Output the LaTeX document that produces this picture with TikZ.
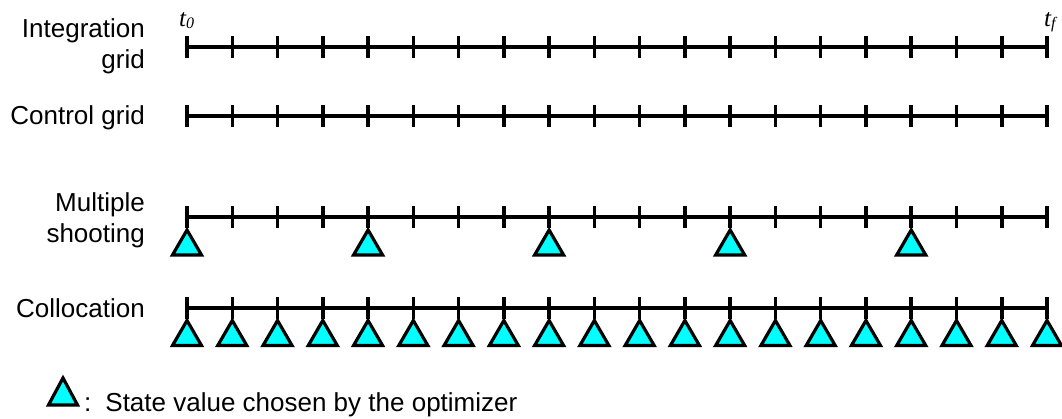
\documentclass[tikz,border=0pt]{standalone}
\usepackage{fontspec}
\setmainfont{Liberation Sans}
\newfontfamily\timesfont{Liberation Serif}
\definecolor{statecyan}{HTML}{00FFFF}

\begin{document}
\begin{tikzpicture}[x=1pt,y=-1pt,
    rowlabel/.style={anchor=base east,align=right,inner sep=0pt,
                     font=\fontsize{26}{31}\selectfont},
    gridline/.style={line width=4pt},
    tickmark/.style={line width=3.5pt},
    statemark/.style={draw=black,fill=statecyan,line width=3.2pt,line join=miter},
    timelabel/.style={inner sep=0pt,anchor=base west,
                      font=\fontsize{25}{27}\timesfont\itshape},
  ]
  \useasboundingbox (0,0) rectangle (1062,419);

  % geometry of the time axis: 20 grid points from t0 to tf
  \def\xs{187}
  \def\dx{45.2632}

  % ---- row labels (base anchor = baseline of the last line) ----
  \node[rowlabel] (lab-int) at (145,69) {Integration\\grid};
  \node[rowlabel] (lab-ctl) at (145,125) {Control grid};
  \node[rowlabel] (lab-ms)  at (145,243) {Multiple\\shooting};
  \node[rowlabel] (lab-col) at (145,317) {Collocation};

  % ---- time labels ----
  \node[timelabel] (t0) at (179,27) {t\raisebox{-1.5pt}{\fontsize{16}{17}\selectfont 0}};
  \node[timelabel] (tf) at (1044,27) {t\raisebox{-1.5pt}{\fontsize{16}{17}\selectfont f}};

  % ---- the four grids ----
  \foreach \row/\y in {int/47.5, ctl/116, ms/217.5, col/308}{
    \coordinate (\row-s) at (\xs,\y);
    \coordinate (\row-e) at (\xs+19*\dx,\y);
    \draw[gridline] (\row-s) -- (\row-e);
    \foreach \i in {0,...,19}{
      \draw[tickmark] (\xs+\i*\dx,\y-11) -- (\xs+\i*\dx,\y+11);
    }
  }

  % ---- state values chosen by the optimizer ----
  % multiple shooting: one at the start of each shooting interval
  \foreach \i in {0,4,8,12,16}{
    \draw[statemark] (\xs+\i*\dx,217.5+12.5) -- ++(-14.5,25) -- ++(29,0) -- cycle;
  }
  % collocation: one at every grid point
  \foreach \i in {0,...,19}{
    \draw[statemark] (\xs+\i*\dx,308+12.5) -- ++(-14.5,25) -- ++(29,0) -- cycle;
  }

  % ---- legend ----
  \draw[statemark] (63,378) -- ++(-14.5,27) -- ++(29,0) -- cycle;
  \node[anchor=base west,inner sep=0pt,font=\fontsize{26}{31}\selectfont]
    (legend) at (84,411) {:\hspace{14pt}State value chosen by the optimizer};
\end{tikzpicture}
\end{document}
